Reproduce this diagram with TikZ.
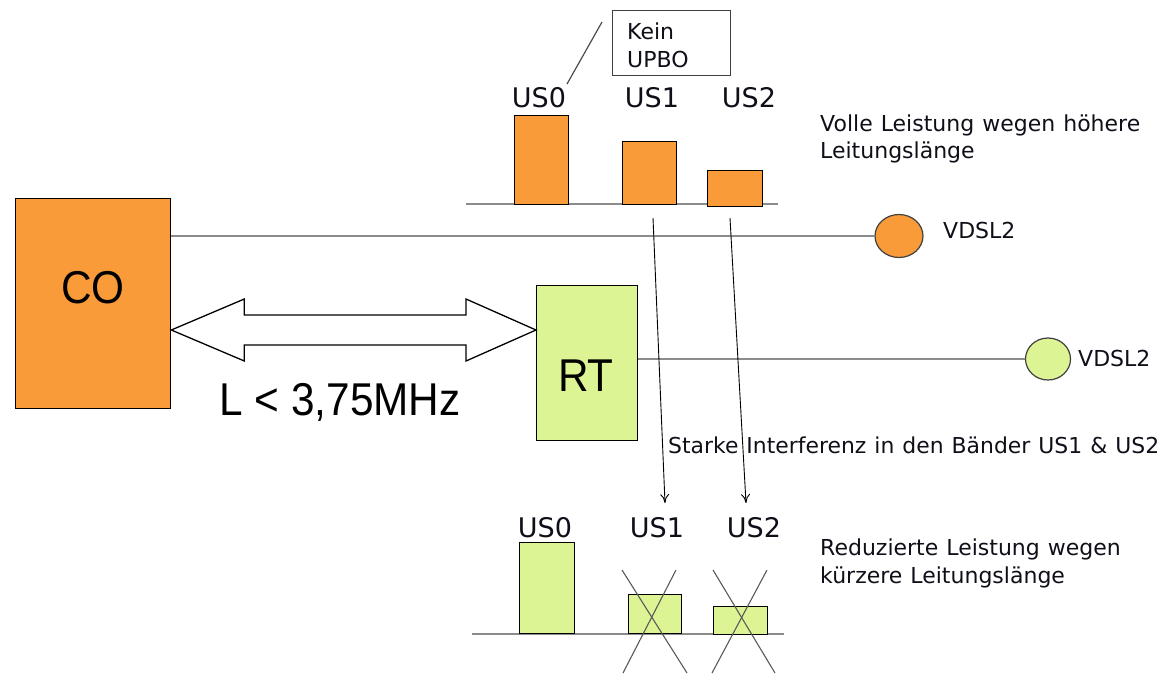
\documentclass[tikz,border=0pt]{standalone}
\usepackage{fontspec}
\setmainfont{DejaVu Sans}[WordSpace=1.15]
\newfontfamily\arialfont{Liberation Sans}
\usetikzlibrary{arrows.meta,calc,shapes.geometric}
\definecolor{coorange}{RGB}{249,155,56}
\definecolor{rtgreen}{RGB}{221,244,149}
\definecolor{wiregray}{RGB}{140,140,140}
\definecolor{ink}{RGB}{15,15,25}
\tikzset{
  txt/.style={font=\fontsize{22}{27}\selectfont, inner sep=0pt, anchor=base west, text=ink},
  bandlbl/.style={font=\fontsize{27}{30}\selectfont, inner sep=0pt, anchor=base, text=ink},
  bigtxt/.style={font=\arialfont\fontsize{46}{50}\selectfont, inner sep=0pt, text=black},
  box/.style={draw=black, line width=1.3pt, inner sep=0pt},
  obar/.style={box, fill=coorange, anchor=south west},
  gbar/.style={box, fill=rtgreen, anchor=south west},
  wire/.style={draw=wiregray, line width=1.8pt},
  axis/.style={draw=wiregray, line width=1.6pt},
  modem/.style={ellipse, draw=black!75, line width=1.2pt, inner sep=0pt},
  strike/.style={draw=black!65, line width=1.1pt},
  drop/.style={draw=black, line width=0.9pt, -{To[length=9pt,width=9pt]}},
}
\begin{document}
\begin{tikzpicture}[x=1pt, y=-1pt]
\path[use as bounding box] (0,0) rectangle (1176,673);

% central office and remote terminal
\node[box, fill=coorange, minimum width=155pt, minimum height=210pt, anchor=north west] (co) at (15,198) {};
\node[bigtxt] (colbl) at (93,288) {\scalebox{0.92}[1]{CO}};
\node[box, fill=rtgreen, minimum width=101pt, minimum height=155pt, anchor=north west] (rt) at (536,285) {};
\node[bigtxt] (rtlbl) at (586,376) {\scalebox{0.92}[1]{RT}};

% feeder link between CO and RT
\coordinate (al) at (co.east |- 0,330);
\coordinate (ar) at (rt.west |- 0,330);
\draw[line width=1.3pt, fill=white]
  (al) -- ++(73,-31) -- ++(0,16) -- ($(ar)+(-70,-15)$) -- ++(0,-16) -- (ar)
  -- ++(-70,31) -- ++(0,-16) -- ($(al)+(73,15)$) -- ++(0,16) -- cycle;
\node[bigtxt] (len) at (340,402) {\scalebox{0.92}[1]{L < 3,75MHz}};

% subscriber modems
\node[modem, fill=coorange, minimum width=48pt, minimum height=43pt] (m1) at (899,236) {};
\node[txt] (m1lbl) at (943,238) {VDSL2};
\draw[wire] (co.east |- m1.west) -- (m1.west);
\node[modem, fill=rtgreen, minimum width=45pt, minimum height=42pt] (m2) at (1048,359) {};
\node[txt] (m2lbl) at (1078,366) {VDSL2};
\draw[wire] (rt.east |- m2.west) -- (m2.west);

% upstream bands of the long line
\draw[axis] (466,204) -- (778,204);
\node[obar, minimum width=54pt, minimum height=89pt] (t0) at (514,205) {};
\node[obar, minimum width=54pt, minimum height=63pt] (t1) at (622,205) {};
\node[obar, minimum width=55pt, minimum height=36pt] (t2) at (707,207) {};
\node[bandlbl] (t0lbl) at (539,107) {US0};
\node[bandlbl] (t1lbl) at (652,107) {US1};
\node[bandlbl] (t2lbl) at (749,107) {US2};
\node[txt] (full1) at (820,131) {Volle Leistung wegen höhere};
\node[txt] (full2) at (820,158) {Leitungslänge};

% callout
\node[draw=black!75, line width=1.2pt, minimum width=118pt, minimum height=65pt, anchor=north west, inner sep=0pt] (kb) at (612,10) {};
\node[txt] (kb1) at (627,39) {Kein};
\node[txt] (kb2) at (627,67) {UPBO};
\coordinate (cs) at (567,84);
\coordinate (ce) at (602,22);
\draw[draw=black!70, line width=1.2pt] (cs) -- (ce);

% interference from the long line into the short one
\coordinate (a1s) at (653,218);
\coordinate (a1e) at (665,503);
\coordinate (a2s) at (730,218);
\coordinate (a2e) at (746,503);
\draw[drop] (a1s) -- (a1e);
\draw[drop] (a2s) -- (a2e);
\node[txt, font=\fontsize{21.9}{27}\selectfont] (intf) at (668,453) {Starke Interferenz in den Bänder US1 \& US2};

% upstream bands of the short line
\draw[axis] (472,634) -- (784,634);
\node[gbar, minimum width=55pt, minimum height=91pt] (b0) at (519,634) {};
\node[gbar, minimum width=53pt, minimum height=39pt] (b1) at (628,634) {};
\node[gbar, minimum width=54pt, minimum height=28pt] (b2) at (713,635) {};
\node[bandlbl] (b0lbl) at (545,537) {US0};
\node[bandlbl] (b1lbl) at (657,537) {US1};
\node[bandlbl] (b2lbl) at (754,537) {US2};
\draw[strike] (622,570) -- (687,673);
\draw[strike] (676,570) -- (623,673);
\draw[strike] (713,570) -- (775,673);
\draw[strike] (767,570) -- (712,673);
\node[txt] (red1) at (820,555) {Reduzierte Leistung wegen};
\node[txt] (red2) at (820,583) {kürzere Leitungslänge};
\end{tikzpicture}
\end{document}
